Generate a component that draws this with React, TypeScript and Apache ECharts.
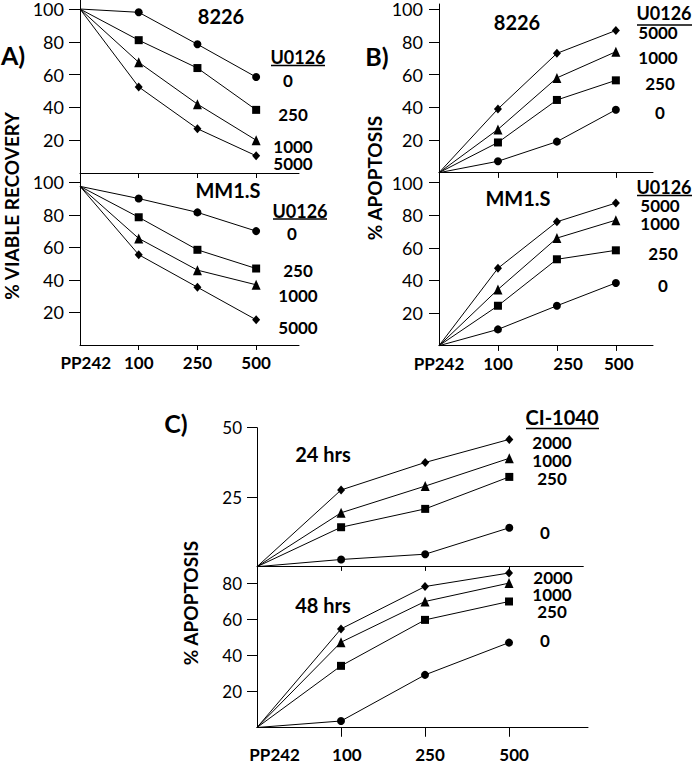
import React, { useEffect, useRef } from "react";
import * as echarts from "echarts";

// ---- data ----
const doseLabels = ["PP242", "100", "250", "500"];

// A) % viable recovery, 8226
const a8226_0 = [100, 98, 78.5, 58.5];
const a8226_250 = [100, 81, 64, 38.5];
const a8226_1000 = [100, 67.5, 42, 20];
const a8226_5000 = [100, 52.5, 27, 10.5];
// A) % viable recovery, MM1.S
const aMM_0 = [97.5, 90, 81.5, 70];
const aMM_250 = [97.5, 78.5, 58.5, 47];
const aMM_1000 = [97.5, 65.5, 46, 37];
const aMM_5000 = [97.5, 55.5, 35.5, 15.5];
// B) % apoptosis, 8226
const b8226_0 = [0, 7, 19, 38.5];
const b8226_250 = [0, 18.5, 44.5, 56.5];
const b8226_1000 = [0, 26.5, 58, 74];
const b8226_5000 = [0, 39, 73, 87];
// B) % apoptosis, MM1.S
const bMM_0 = [0, 10, 24.5, 38.5];
const bMM_250 = [0, 24.5, 53, 58.5];
const bMM_1000 = [0, 34.5, 66, 77];
const bMM_5000 = [0, 47.5, 76, 87.5];
// C) % apoptosis, 24 hrs
const c24_0 = [0, 2.6, 4.5, 14];
const c24_250 = [0, 14.2, 20.8, 32.3];
const c24_1000 = [0, 19.4, 29, 39];
const c24_2000 = [0, 27.6, 37.5, 45.8];
// C) % apoptosis, 48 hrs
const c48_0 = [0, 3.6, 29.2, 47.1];
const c48_250 = [0, 34.2, 59.7, 69.9];
const c48_1000 = [0, 47.3, 69.9, 80.1];
const c48_2000 = [0, 54.7, 78.2, 85.7];

const yTicksAB = [20, 40, 60, 80, 100];
const yTicksC24 = [25, 50];
const yTicksC48 = [20, 40, 60, 80];

const FONT = "Lato, 'Open Sans', sans-serif";

type Panel = {
  left: number; top: number; width: number; height: number;
  xMax: number; yMax: number; yTicks: number[];
  xLabels: boolean; xLabelPos: number[]; xLabelMargin: number;
  xTickLen: number; yTickLen: number; yLabelShift: number; yLabelSize: number;
  yLabelMargin: number;
};

const panels: Panel[] = [
  { left: 80, top: 0, width: 219, height: 173, xMax: 3.73, yMax: 105.5, yTicks: yTicksAB, xLabels: false, xLabelPos: [0, 1, 2, 3], xLabelMargin: 10, xTickLen: 5, yTickLen: 11, yLabelShift: 4, yLabelSize: 18, yLabelMargin: 16 },
  { left: 80, top: 173, width: 219, height: 172, xMax: 3.73, yMax: 105.7, yTicks: yTicksAB, xLabels: true, xLabelPos: [0.1, 1, 2, 3], xLabelMargin: 9, xTickLen: 5, yTickLen: 11, yLabelShift: 4, yLabelSize: 18, yLabelMargin: 16 },
  { left: 439, top: 4, width: 214, height: 168.7, xMax: 3.63, yMax: 103.2, yTicks: yTicksAB, xLabels: false, xLabelPos: [0, 1, 2, 3], xLabelMargin: 9, xTickLen: 5, yTickLen: 10, yLabelShift: 4, yLabelSize: 18, yLabelMargin: 16 },
  { left: 439, top: 172.7, width: 214, height: 173, xMax: 3.63, yMax: 106.1, yTicks: yTicksAB, xLabels: true, xLabelPos: [0, 1, 2.19, 3.05], xLabelMargin: 9, xTickLen: 5, yTickLen: 10, yLabelShift: 4, yLabelSize: 18, yLabelMargin: 16 },
  { left: 257, top: 427.7, width: 326.3, height: 139, xMax: 3.88, yMax: 50, yTicks: yTicksC24, xLabels: false, xLabelPos: [0, 1, 2, 3], xLabelMargin: 19, xTickLen: 4, yTickLen: 10, yLabelShift: 7, yLabelSize: 17, yLabelMargin: 15 },
  { left: 257, top: 566.7, width: 331, height: 160.8, xMax: 3.94, yMax: 89.2, yTicks: yTicksC48, xLabels: true, xLabelPos: [0.21, 1.07, 2.06, 3.06], xLabelMargin: 18, xTickLen: 9, yTickLen: 10, yLabelShift: 2, yLabelSize: 17, yLabelMargin: 15 },
];

const panelSeries: number[][][] = [
  [a8226_0, a8226_250, a8226_1000, a8226_5000],
  [aMM_0, aMM_250, aMM_1000, aMM_5000],
  [b8226_0, b8226_250, b8226_1000, b8226_5000],
  [bMM_0, bMM_250, bMM_1000, bMM_5000],
  [c24_0, c24_250, c24_1000, c24_2000],
  [c48_0, c48_250, c48_1000, c48_2000],
];

const symbols = ["circle", "rect", "triangle", "diamond"];
const symbolSizes: any[] = [8, 8, [9, 10], [8, 9]];

function txt(text: string, x: number, y: number, size: number, bold = true, extra: any = {}) {
  return {
    type: "text",
    x, y,
    silent: true,
    z: 10,
    ...extra,
    style: {
      text,
      x: 0, y: 0,
      fill: "#000",
      font: `${bold ? "bold " : ""}${size}px ${FONT}`,
      textAlign: "center",
      textVerticalAlign: "middle",
    },
  };
}

function uline(x1: number, x2: number, y: number) {
  return { type: "line", silent: true, z: 10, shape: { x1, y1: y, x2, y2: y }, style: { stroke: "#000", lineWidth: 1.5 } };
}

function buildOption() {
  const grid: any[] = [];
  const xAxis: any[] = [];
  const yAxis: any[] = [];
  const series: any[] = [];
  panels.forEach((p, gi) => {
    grid.push({ left: p.left, top: p.top, width: p.width, height: p.height, containLabel: false });
    const baseX = {
      type: "value", gridIndex: gi, min: 0, max: p.xMax,
      splitLine: { show: false },
    };
    xAxis.push({
      ...baseX,
      axisLine: { show: true, onZero: false, lineStyle: { color: "#000", width: 1 } },
      axisTick: { show: true, customValues: [1, 2, 3], length: p.xTickLen, lineStyle: { color: "#000", width: 1 } },
      axisLabel: {
        show: p.xLabels,
        customValues: p.xLabelPos,
        formatter: (v: number) => doseLabels[Math.round(v)] ?? "",
        margin: p.xLabelMargin,
        color: "#000",
        fontFamily: FONT,
        fontWeight: "bold",
        fontSize: 17,
      },
    });
    xAxis.push({
      ...baseX,
      axisLine: { show: false },
      axisTick: { show: true, inside: true, customValues: [1, 2, 3], length: p.xTickLen, lineStyle: { color: "#000", width: 1 } },
      axisLabel: { show: false },
    });
    const baseY = {
      type: "value", gridIndex: gi, min: 0, max: p.yMax,
      splitLine: { show: false },
    };
    yAxis.push({
      ...baseY,
      axisLine: { show: true, onZero: false, lineStyle: { color: "#000", width: 1 } },
      axisTick: { show: true, customValues: p.yTicks, length: p.yTickLen, lineStyle: { color: "#000", width: 1 } },
      axisLabel: {
        show: true,
        customValues: p.yTicks,
        margin: p.yLabelMargin,
        color: "#000",
        fontFamily: FONT,
        fontSize: p.yLabelSize,
        padding: [p.yLabelShift * 2, 0, 0, 0],
      },
    });
    yAxis.push({
      ...baseY,
      axisLine: { show: false },
      axisTick: { show: true, inside: true, customValues: p.yTicks, length: p.yTickLen, lineStyle: { color: "#000", width: 1 } },
      axisLabel: { show: false },
    });
    panelSeries[gi].forEach((vals, si) => {
      series.push({
        type: "line",
        xAxisIndex: gi * 2,
        yAxisIndex: gi * 2,
        data: vals.map((v, i) => (i === 0 ? { value: [i, v], symbol: "none" } : { value: [i, v] })),
        symbol: symbols[si],
        symbolSize: symbolSizes[si],
        showSymbol: true,
        lineStyle: { color: "#000", width: 1 },
        itemStyle: { color: "#000", borderWidth: 0 },
        silent: true,
        z: 3,
      });
    });
  });

  const graphic: any[] = [
    // panel letters
    txt("A)", 13, 55, 25),
    txt("B)", 377, 56, 25),
    txt("C)", 176, 423, 25),
    // y titles
    txt("% VIABLE RECOVERY", 11, 206, 19, true, { rotation: Math.PI / 2 }),
    txt("% APOPTOSIS", 374, 178, 19, true, { rotation: Math.PI / 2 }),
    txt("% APOPTOSIS", 190, 603, 19, true, { rotation: Math.PI / 2 }),
    // A top
    txt("8226", 221, 16, 20),
    txt("U0126", 298, 57, 18), uline(271, 325, 65.5),
    txt("0", 288, 80, 17),
    txt("250", 293, 114, 17),
    txt("1000", 293, 146, 17),
    txt("5000", 293, 163, 17),
    // A bottom
    txt("MM1.S", 228, 190, 20),
    txt("U0126", 300, 211, 18), uline(273, 327, 219),
    txt("0", 292, 233, 17),
    txt("250", 298, 270, 17),
    txt("1000", 298, 295, 17),
    txt("5000", 298, 327, 17),
    // B top
    txt("8226", 517, 22, 20),
    txt("U0126", 664, 13, 18), uline(637, 692, 25),
    txt("5000", 658, 32, 17),
    txt("1000", 658, 57, 17),
    txt("250", 660, 83, 17),
    txt("0", 660, 112, 17),
    // B bottom
    txt("MM1.S", 518, 198, 20),
    txt("U0126", 664, 187, 18), uline(637, 692, 195.5),
    txt("5000", 660, 205, 17),
    txt("1000", 660, 223, 17),
    txt("250", 663, 253, 17),
    txt("0", 663, 285, 17),
    // C top
    txt("24 hrs", 323, 454, 20),
    txt("CI-1040", 562, 417, 20), uline(526, 599, 428.5),
    txt("2000", 552, 442, 17),
    txt("1000", 552, 460, 17),
    txt("250", 552, 478, 17),
    txt("0", 545, 532, 17),
    // C bottom
    txt("48 hrs", 323, 605, 20),
    txt("2000", 553, 577, 17),
    txt("1000", 552, 594, 17),
    txt("250", 552, 611, 17),
    txt("0", 545, 640, 17),
  ];

  return {
    animation: false,
    backgroundColor: "#fff",
    grid,
    xAxis,
    yAxis,
    series,
    graphic,
  };
}

export default function App() {
  const ref = useRef<HTMLDivElement>(null);
  useEffect(() => {
    if (!ref.current) return;
    const chart = echarts.init(ref.current, undefined, { renderer: "svg" });
    chart.setOption(buildOption() as any);
    return () => chart.dispose();
  }, []);
  return (
    <div
      ref={ref}
      style={{ position: "absolute", left: 0, top: 0, width: 693, height: 763, background: "#fff" }}
    />
  );
}
